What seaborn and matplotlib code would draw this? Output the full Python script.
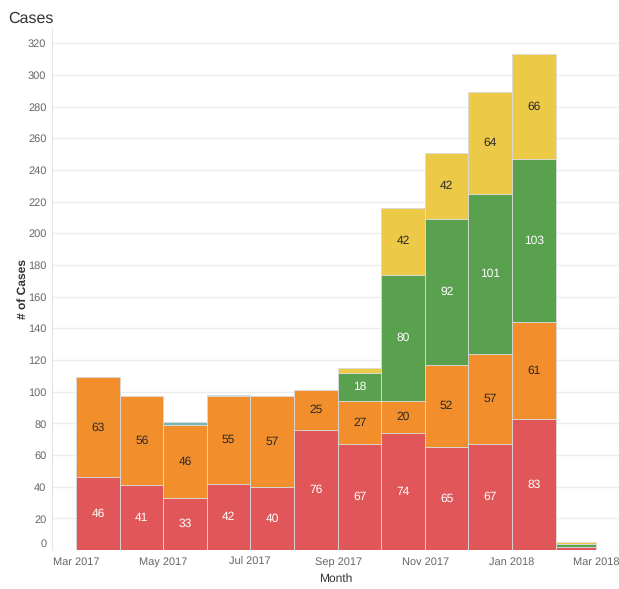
import numpy as np
import pandas as pd
import matplotlib
matplotlib.use("Agg")
import matplotlib.pyplot as plt
import matplotlib.dates as mdates
import matplotlib.transforms as mtransforms
import seaborn as sns

# ---- data ----
months = ["2017-03", "2017-04", "2017-05", "2017-06", "2017-07", "2017-08",
          "2017-09", "2017-10", "2017-11", "2017-12", "2018-01", "2018-02"]
red = [46, 41, 33, 42, 40, 76, 67, 74, 65, 67, 83, 2]
orange = [63, 56, 46, 55, 57, 25, 27, 20, 52, 57, 61, 0]
teal = [0, 0, 2, 1, 0, 0, 0, 0, 0, 0, 0, 0]
green = [0, 0, 0, 0, 0, 0, 18, 80, 92, 101, 103, 2]
yellow = [0, 0, 0, 0, 0, 0, 3, 42, 42, 64, 66, 1]
yticks = list(range(0, 321, 20))

series = {"Red": red, "Orange": orange, "Teal": teal, "Green": green, "Yellow": yellow}
palette = {"Red": "#e15759", "Orange": "#f28e2b", "Teal": "#76b7b2",
           "Green": "#59a14f", "Yellow": "#edc948"}
text_colors = {"Red": "white", "Orange": "#2a2a2a", "Teal": "#2a2a2a",
               "Green": "white", "Yellow": "#2a2a2a"}
stack_order = ["Red", "Orange", "Teal", "Green", "Yellow"]  # bottom -> top

starts = pd.to_datetime(months)
edges = list(starts) + [starts[-1] + pd.offsets.MonthBegin(1)]
edge_num = [float(mdates.date2num(e.to_pydatetime())) for e in edges]
start_num = np.array(edge_num[:-1])
mid_num = (np.array(edge_num[:-1]) + np.array(edge_num[1:])) / 2

rows = []
for name, vals in series.items():
    for x, v in zip(start_num, vals):
        rows.append({"x": float(x) + 1.0, "count": float(v), "cat": name})
df = pd.DataFrame(rows)

sns.set_style("white")
plt.rcParams["font.family"] = ["Liberation Sans", "DejaVu Sans"]
plt.rcParams["text.hinting"] = "no_hinting"
plt.rcParams["text.hinting_factor"] = 1

fig = plt.figure(figsize=(6.19, 5.89), dpi=100)
ax = fig.add_axes([0.084, 0.066, 0.916, 0.886])

# seaborn stacks the last hue level at the bottom
sns.histplot(data=df, x="x", weights="count", hue="cat",
             hue_order=stack_order[::-1], palette=palette,
             multiple="stack", bins=edge_num, alpha=1,
             edgecolor="#dadada", linewidth=0.6, legend=False, ax=ax)
for p in ax.patches:
    if p.get_height() <= 0:
        p.set_visible(False)

# segment labels
bottom = np.zeros(len(months))
for name in stack_order:
    vals = np.array(series[name], dtype=float)
    for xm, b, v in zip(mid_num, bottom, vals):
        if v >= 15:
            ax.text(xm, b + v / 2, f"{int(v)}", ha="center", va="center",
                    fontsize=8.5, color=text_colors[name])
    bottom += vals

x0 = mdates.date2num(pd.Timestamp("2017-02-12").to_pydatetime())
x1 = mdates.date2num(pd.Timestamp("2018-03-17").to_pydatetime())
ax.set_xlim(x0, x1)
ax.set_ylim(0, 329.5)
ax.set_yticks(yticks)
ax.set_yticklabels([str(t) if t != 0 else "" for t in yticks])
ax.yaxis.grid(True, color="#ececec", linewidth=1)
ax.set_axisbelow(True)
ax.xaxis.set_major_locator(mdates.MonthLocator(bymonth=[1, 3, 5, 7, 9, 11]))
ax.xaxis.set_major_formatter(mdates.DateFormatter("%b %Y"))
ax.tick_params(axis="both", labelsize=8, colors="#666666", length=0, pad=4)
ax.tick_params(axis="x", pad=5)

# the zero label sits slightly raised, as in the reference
blend = mtransforms.blended_transform_factory(ax.transAxes, ax.transData)
ax.annotate(str(yticks[0]), xy=(0, yticks[0]), xycoords=blend,
            xytext=(-4, 4.5), textcoords="offset points",
            ha="right", va="center", fontsize=8, color="#666666")

for s in ["top", "right", "bottom"]:
    ax.spines[s].set_visible(False)
ax.spines["left"].set_color("#e6e6e6")

ax.set_xlabel("Month", fontsize=8.5, color="#333333", labelpad=4)
ax.set_ylabel("# of Cases", fontsize=8.5, color="#333333", fontweight="bold", labelpad=0)
fig.text(0.013, 0.968, "Cases", fontsize=11.5, color="#333333", ha="left", va="center")

fig.savefig("out.png", dpi=100)
